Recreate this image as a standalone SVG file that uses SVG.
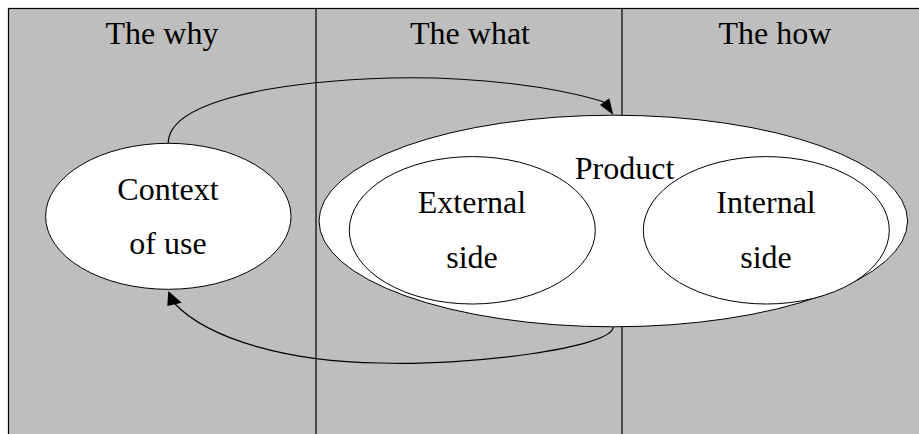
<svg xmlns="http://www.w3.org/2000/svg" width="919" height="434" viewBox="0 0 919 434">
<style>
.t{font-family:"Liberation Serif","Times New Roman",serif;font-size:32px;fill:#000;text-anchor:middle}
.n{fill:#fff;stroke:#000;stroke-width:1}
.c{fill:none;stroke:#000;stroke-width:1.2}
.a{fill:#000;stroke:none}
</style>
<g id="background">
<rect x="8.5" y="8.5" width="915" height="440" fill="#bebebe" stroke="#000" stroke-width="1.2"/>
<line x1="316" y1="8.5" x2="316" y2="434" stroke="#000" stroke-width="1.2"/>
<line x1="622" y1="8.5" x2="622" y2="434" stroke="#000" stroke-width="1.2"/>
<text class="t" x="162" y="44">The why</text>
<text class="t" x="470" y="44">The what</text>
<text class="t" x="775" y="44">The how</text>
</g>
<g id="context">
<ellipse class="n" cx="168.3" cy="216.3" rx="122.7" ry="73"/>
<text class="t" x="168" y="200">Context</text>
<text class="t" x="168" y="254">of use</text>
</g>
<g id="product">
<ellipse class="n" cx="613.3" cy="221" rx="294.3" ry="105.8"/>
<text class="t" x="624.5" y="179">Product</text>
</g>
<g id="external">
<ellipse class="n" cx="472.3" cy="230.3" rx="123" ry="73.7"/>
<text class="t" x="472" y="213">External</text>
<text class="t" x="472" y="267.5">side</text>
</g>
<g id="internal">
<ellipse class="n" cx="766.3" cy="230.3" rx="123" ry="73.7"/>
<text class="t" x="766" y="213">Internal</text>
<text class="t" x="766" y="267.5">side</text>
</g>
<g id="connectors">
<path class="c" d="M168.3,143.3 C168,105 260,82 390,78 C480,76 560,88 604,102"/>
<polygon class="a" points="613.3,115 600,105 609.3,98.3"/>
<path class="c" d="M613.3,327 C612,348 470,366 380,363 C290,362 210,340 175,304"/>
<polygon class="a" points="168.3,291 167.3,306 181.7,302.7"/>
</g>
</svg>
